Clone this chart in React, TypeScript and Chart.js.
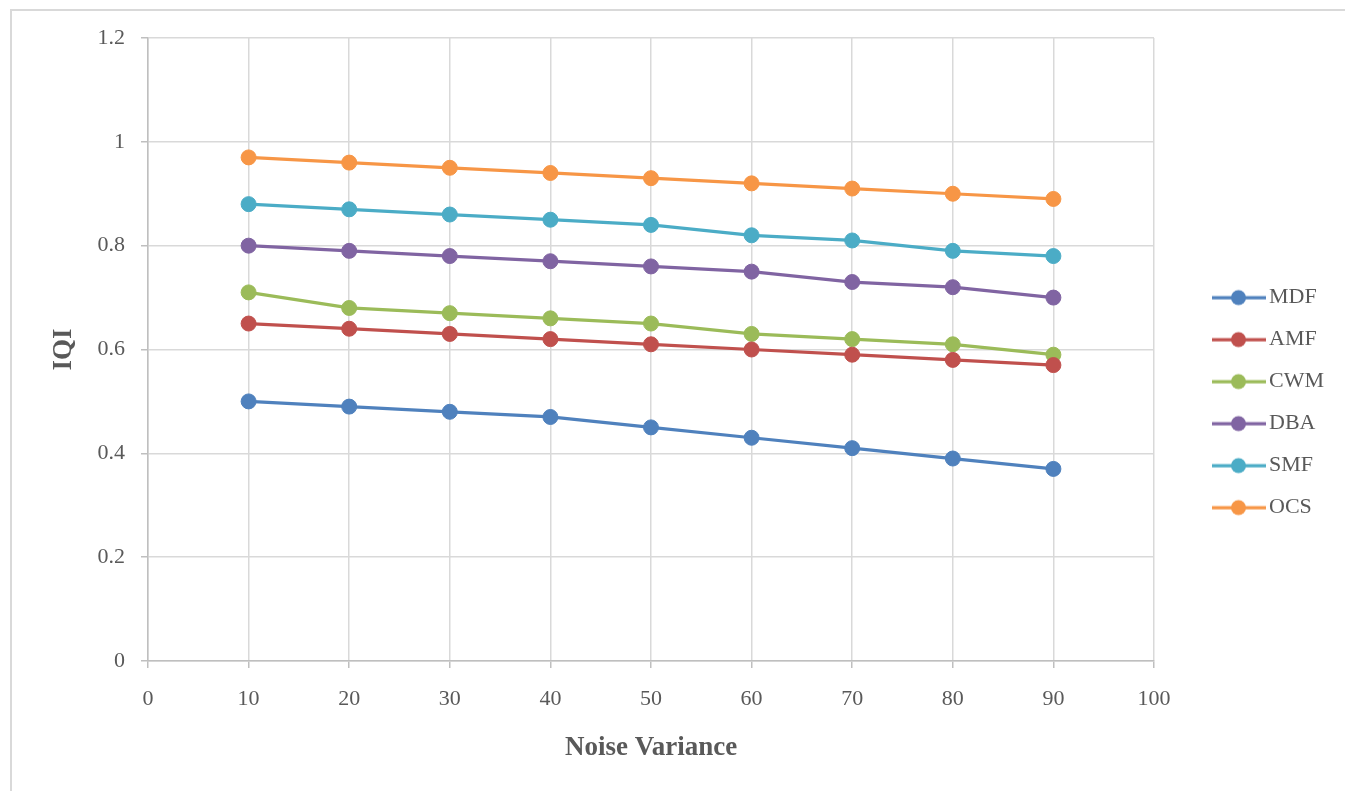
import React, { useEffect, useRef } from "react";
import { Chart, registerables } from "chart.js";

Chart.register(...registerables);

const noiseVariance = [10, 20, 30, 40, 50, 60, 70, 80, 90];
const seriesNames = ["MDF", "AMF", "CWM", "DBA", "SMF", "OCS"];
const mdf = [0.5, 0.49, 0.48, 0.47, 0.45, 0.43, 0.41, 0.39, 0.37];
const amf = [0.65, 0.64, 0.63, 0.62, 0.61, 0.6, 0.59, 0.58, 0.57];
const cwm = [0.71, 0.68, 0.67, 0.66, 0.65, 0.63, 0.62, 0.61, 0.59];
const dba = [0.8, 0.79, 0.78, 0.77, 0.76, 0.75, 0.73, 0.72, 0.7];
const smf = [0.88, 0.87, 0.86, 0.85, 0.84, 0.82, 0.81, 0.79, 0.78];
const ocs = [0.97, 0.96, 0.95, 0.94, 0.93, 0.92, 0.91, 0.9, 0.89];
const seriesValues = [mdf, amf, cwm, dba, smf, ocs];
const seriesColors = ["#4F81BD", "#C0504D", "#9BBB59", "#8064A2", "#4BACC6", "#F79646"];

const FONT = "'Liberation Serif', 'Times New Roman', serif";
const TEXT = "#595959";

function legendImage(color: string) {
  const c = document.createElement("canvas");
  c.width = 100;
  c.height = 18;
  const ctx = c.getContext("2d")!;
  ctx.strokeStyle = color;
  ctx.lineWidth = 3.25;
  ctx.beginPath();
  ctx.moveTo(46, 9);
  ctx.lineTo(100, 9);
  ctx.stroke();
  ctx.fillStyle = color;
  ctx.beginPath();
  ctx.arc(72.5, 9, 7.5, 0, Math.PI * 2);
  ctx.fill();
  return c;
}

export default function App() {
  const ref = useRef<HTMLCanvasElement | null>(null);
  useEffect(() => {
    if (!ref.current) return;
    const images = seriesColors.map(legendImage);
    const chart = new Chart(ref.current, {
      type: "line",
      data: {
        datasets: seriesNames.map((name, i) => ({
          label: name,
          data: noiseVariance.map((x, j) => ({ x, y: seriesValues[i][j] })),
          borderColor: seriesColors[i],
          backgroundColor: seriesColors[i],
          pointBackgroundColor: seriesColors[i],
          pointBorderColor: seriesColors[i],
          borderWidth: 3.25,
          pointRadius: 7.5,
          pointBorderWidth: 1,
          tension: 0,
          fill: false,
        })),
      },
      options: {
        animation: false,
        responsive: false,
        devicePixelRatio: 1,
        layout: { padding: { top: 38, right: 11, bottom: 0, left: 0 } },
        plugins: {
          tooltip: { enabled: false },
          legend: {
            position: "right",
            fullSize: false,
            title: { display: true, text: " ", font: { size: 1 }, padding: { top: 105, bottom: 0 } },
            labels: {
              usePointStyle: true,
              pointStyleWidth: 84,
              padding: 20,
              color: TEXT,
              font: { family: FONT, size: 22 },
              generateLabels: (ch: any) => {
                const items = Chart.defaults.plugins.legend.labels.generateLabels(ch);
                return items.map((it: any, i: number) => ({ ...it, pointStyle: images[i] }));
              },
            },
          },
        },
        scales: {
          x: {
            type: "linear",
            min: 0,
            max: 100,
            ticks: {
              stepSize: 10,
              padding: 18,
              color: TEXT,
              font: { family: FONT, size: 22 },
              maxRotation: 0,
            },
            grid: { color: "#d9d9d9", lineWidth: 1.5, tickLength: 7, tickColor: "#bfbfbf" },
            border: { color: "#bfbfbf", width: 1.5 },
            title: {
              display: true,
              text: "Noise Variance",
              color: TEXT,
              font: { family: FONT, size: 27, weight: "bold" },
              padding: { top: 0, bottom: 27 },
            },
            afterFit: (s: any) => {
              s.height = 130;
            },
          },
          y: {
            min: 0,
            max: 1.2,
            ticks: {
              stepSize: 0.2,
              padding: 16,
              color: TEXT,
              font: { family: FONT, size: 22 },
              callback: (v: any) => String(Number(Number(v).toFixed(1))),
            },
            grid: { color: "#d9d9d9", lineWidth: 1.5, tickLength: 7, tickColor: "#bfbfbf" },
            border: { color: "#bfbfbf", width: 1.5 },
            title: {
              display: true,
              text: "IQI",
              color: TEXT,
              font: { family: FONT, size: 27, weight: "bold" },
              padding: { top: 48, bottom: 0 },
            },
            afterFit: (s: any) => {
              s.width = 148;
            },
          },
        },
      },
    });
    return () => chart.destroy();
  }, []);
  return (
    <div style={{ position: "absolute", left: 0, top: 0, width: 1345, height: 791, overflow: "hidden", background: "#fff" }}>
      <div
        style={{
          position: "absolute",
          left: 10,
          top: 9,
          width: 1400,
          height: 850,
          borderLeft: "2px solid #d9d9d9",
          borderTop: "2px solid #d9d9d9",
        }}
      />
      <canvas ref={ref} width={1345} height={791} style={{ position: "absolute", left: 0, top: 0, width: 1345, height: 791 }} />
    </div>
  );
}
